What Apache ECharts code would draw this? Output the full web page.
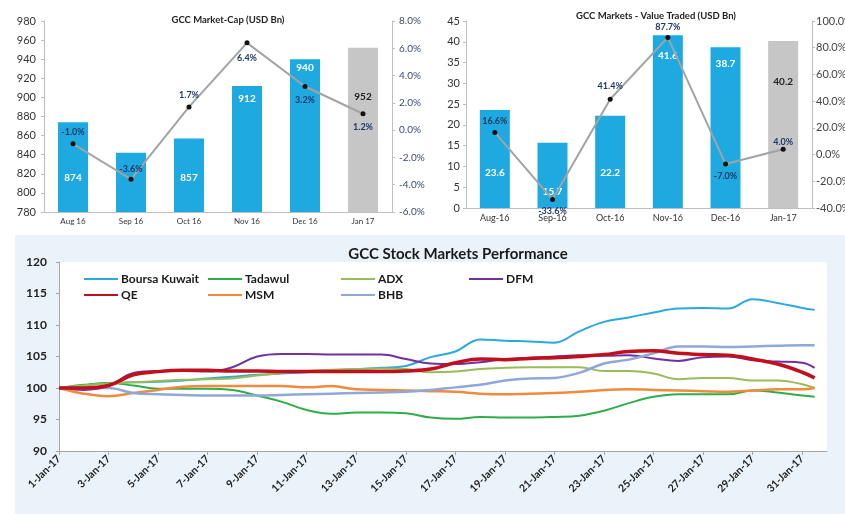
<!DOCTYPE html>
<html>
<head>
<meta charset="utf-8">
<script src="https://cdn.jsdelivr.net/npm/echarts@6/dist/echarts.min.js"></script>
<style>
html,body{margin:0;padding:0;background:#fff;}
#c{width:845px;height:514px;}
</style>
</head>
<body>
<div id="c"></div>
<script>
// ---- Data ----
const mcCats = ['Aug 16', 'Sep 16', 'Oct 16', 'Nov 16', 'Dec 16', 'Jan 17'];
const mcValues = [874, 842, 857, 912, 940, 952];
const mcGrowth = [-1.0, -3.6, 1.7, 6.4, 3.2, 1.2];

const vtCats = ['Aug-16', 'Sep-16', 'Oct-16', 'Nov-16', 'Dec-16', 'Jan-17'];
const vtValues = [23.6, 15.7, 22.2, 41.6, 38.7, 40.2];
const vtGrowth = [16.6, -33.6, 41.4, 87.7, -7.0, 4.0];

const days = [1,2,3,4,5,6,7,8,9,10,11,12,13,14,15,16,17,18,19,20,21,22,23,24,25,26,27,28,29,30,31,31.5];
const dayTicks = [1,3,5,7,9,11,13,15,17,19,21,23,25,27,29,31];
const boursaKuwait = [100,100.4,100.8,100.9,101.0,101.2,101.5,101.8,102.1,102.3,102.5,102.8,103.0,103.2,103.5,104.9,105.8,107.7,107.5,107.4,107.2,109.0,110.5,111.2,112.0,112.6,112.7,112.6,114.1,113.5,112.7,112.4];
const tadawul = [100,100.5,100.8,100.4,99.9,99.9,99.9,99.7,98.8,97.8,96.5,95.9,96.1,96.1,96.0,95.3,95.1,95.4,95.3,95.3,95.4,95.6,96.4,97.6,98.6,99.0,99.0,99.0,99.6,99.3,98.8,98.6];
const adx = [100,100.4,100.7,100.9,101.1,101.3,101.4,101.5,102.0,102.4,102.7,102.9,103.0,103.1,103.0,102.5,102.6,103.0,103.2,103.3,103.3,103.3,102.7,102.7,102.3,101.4,101.6,101.6,101.2,101.2,100.6,100.0];
const dfm = [100,99.7,100.3,102.4,102.7,102.7,102.6,103.3,105.0,105.4,105.4,105.3,105.3,105.3,104.6,103.9,103.8,104.1,104.6,104.8,105.0,105.2,105.1,105.2,104.7,104.3,104.9,105.0,104.4,104.2,104.0,103.2];
const qe = [100,100.0,100.4,102.1,102.6,102.8,102.8,102.7,102.7,102.6,102.6,102.6,102.6,102.6,102.7,103.0,104.0,104.6,104.5,104.7,104.8,105.0,105.3,105.8,105.9,105.5,105.3,105.2,104.6,103.8,102.5,101.6];
const msm = [100,99.1,98.7,99.2,99.7,100.2,100.3,100.3,100.3,100.3,100.1,100.3,99.8,99.7,99.6,99.5,99.4,99.1,99.0,99.1,99.2,99.4,99.7,99.8,99.7,99.6,99.5,99.4,99.6,99.8,99.8,100.0];
const bhb = [100,100.0,100.0,99.2,99.0,98.9,98.8,98.8,98.8,98.9,99.0,99.1,99.2,99.3,99.4,99.7,100.1,100.5,101.2,101.5,101.6,102.4,103.9,104.5,105.5,106.6,106.6,106.5,106.6,106.7,106.8,106.8];

const perfNames = ['Boursa Kuwait', 'Tadawul', 'ADX', 'DFM', 'QE', 'MSM', 'BHB'];
const perfValues = [boursaKuwait, tadawul, adx, dfm, qe, msm, bhb];

// ---- Styles ----
const FONT = 'Lato, "Open Sans", sans-serif';
const BLUE = '#1fa9e1';
const GREYBAR = '#c6c6c6';
const AXIS = '#bfbfbf';
const perfColors = ['#2aa9dc', '#2ead4b', '#9bbb59', '#7030a0', '#c0101c', '#f08a3c', '#8fa8d8'];
const perfWidths = [2, 2, 2, 2, 3.5, 2.5, 2.5];

const mcBarLabels = [
  {position: 'insideBottom', distance: 29},
  {show: false},
  {position: 'insideBottom', distance: 29},
  {position: 'insideTop', distance: 8},
  {position: 'insideTop', distance: 4},
  {position: 'insideTop', distance: 44, color: '#222'}
];
const mcLineLabels = [
  {position: 'top', distance: 5},
  {position: 'top', distance: 3},
  {position: 'top', distance: 5},
  {position: 'bottom', distance: 8},
  {position: 'bottom', distance: 7},
  {position: 'bottom', distance: 6}
];
const vtBarLabels = [
  {position: 'insideBottom', distance: 30},
  {position: 'insideBottom', distance: 11},
  {position: 'insideBottom', distance: 30},
  {position: 'insideTop', distance: 16},
  {position: 'insideTop', distance: 12},
  {position: 'insideTop', distance: 36, color: '#222'}
];
const vtLineLabels = [
  {position: 'top', distance: 4},
  {position: 'bottom', distance: 5},
  {position: 'top', distance: 6},
  {position: 'top', distance: 3},
  {position: 'bottom', distance: 5},
  {position: 'top', distance: 0}
];

function barData(vals, labels) {
  return vals.map((v, i) => ({
    value: v,
    itemStyle: {color: i === vals.length - 1 ? GREYBAR : BLUE},
    label: labels[i]
  }));
}
function lineData(vals, labels) {
  return vals.map((v, i) => ({value: v, label: labels[i]}));
}

const axisLineStyle = {show: true, onZero: false, lineStyle: {color: AXIS, width: 1}};
const axisTickStyle = {show: true, length: 3, lineStyle: {color: AXIS}};

const chart = echarts.init(document.getElementById('c'), null, {renderer: 'canvas'});

const option = {
  animation: false,
  backgroundColor: '#ffffff',
  textStyle: {fontFamily: FONT},
  graphic: [{
    type: 'rect', z: -10, silent: true,
    shape: {x: 15, y: 235, width: 830, height: 279},
    style: {fill: '#e9f3f9'}
  }],
  title: [
    {text: 'GCC Market-Cap (USD Bn)', left: 223, top: 10, textAlign: 'center',
     textStyle: {fontSize: 9.5, fontWeight: 'bold', color: '#222', fontFamily: FONT}},
    {text: 'GCC Markets - Value Traded (USD Bn)', left: 651, top: 6, textAlign: 'center',
     textStyle: {fontSize: 9.5, fontWeight: 'bold', color: '#222', fontFamily: FONT}},
    {text: 'GCC Stock Markets Performance', left: 453, top: 242, textAlign: 'center',
     textStyle: {fontSize: 15, fontWeight: 'bold', color: '#1a1a1a', fontFamily: FONT}}
  ],
  legend: [
    {data: ['Boursa Kuwait', 'QE'], left: 78, top: 268},
    {data: ['Tadawul', 'MSM'], left: 202, top: 268},
    {data: ['ADX', 'BHB'], left: 335, top: 268},
    {data: ['DFM'], left: 463, top: 268}
  ].map(l => Object.assign(l, {
    orient: 'vertical', itemWidth: 34, itemHeight: 14, itemGap: 4,
    itemStyle: {opacity: 0},
    textStyle: {fontSize: 12, fontWeight: 'bold', color: '#1a1a1a', fontFamily: FONT, padding: [0, 0, 0, -2]}
  })),
  grid: [
    {left: 44, right: 453, top: 21, bottom: 302, outerBoundsMode: 'none'},
    {left: 466, right: 33, top: 21, bottom: 306, outerBoundsMode: 'none'},
    {left: 59, right: 18, top: 262, bottom: 63, show: true, backgroundColor: '#ffffff', borderWidth: 0, outerBoundsMode: 'none'}
  ],
  xAxis: [
    {type: 'category', gridIndex: 0, data: mcCats, axisLine: axisLineStyle, axisTick: {show: false},
     axisLabel: {fontSize: 8, color: '#333', margin: 5}},
    {type: 'category', gridIndex: 1, data: vtCats, axisLine: axisLineStyle, axisTick: {show: false},
     axisLabel: {fontSize: 9, color: '#333', margin: 6}},
    {type: 'value', gridIndex: 2, min: 1, max: 32,
     axisLine: {show: true, onZero: false, lineStyle: {color: '#a6a6a6'}},
     axisTick: {show: true, length: 4, inside: false, lineStyle: {color: '#a6a6a6'}, customValues: dayTicks},
     splitLine: {show: false},
     axisLabel: {customValues: dayTicks, rotate: 45, fontSize: 10.5, fontWeight: 'bold', color: '#222', margin: 6,
       formatter: v => v + '-Jan-17'}}
  ],
  yAxis: [
    {type: 'value', gridIndex: 0, min: 780, max: 980, interval: 20, axisLine: axisLineStyle, axisTick: axisTickStyle,
     splitLine: {show: false}, axisLabel: {fontSize: 11, color: '#333', margin: 8}},
    {type: 'value', gridIndex: 0, position: 'right', min: -6, max: 8, interval: 2, axisLine: axisLineStyle, axisTick: axisTickStyle,
     splitLine: {show: false}, axisLabel: {fontSize: 10, color: '#3b4a7a', margin: 7, formatter: v => v.toFixed(1) + '%'}},
    {type: 'value', gridIndex: 1, min: 0, max: 45, interval: 5, axisLine: axisLineStyle, axisTick: axisTickStyle,
     splitLine: {show: false}, axisLabel: {fontSize: 11, color: '#333', margin: 6}},
    {type: 'value', gridIndex: 1, position: 'right', min: -40, max: 100, interval: 20, axisLine: axisLineStyle, axisTick: axisTickStyle,
     splitLine: {show: false}, axisLabel: {fontSize: 11, color: '#444', margin: 4, formatter: v => v.toFixed(1) + '%'}},
    {type: 'value', gridIndex: 2, min: 90, max: 120, interval: 5,
     axisLine: {show: true, lineStyle: {color: '#a6a6a6'}},
     axisTick: {show: true, length: 3, lineStyle: {color: '#a6a6a6'}},
     splitLine: {show: false}, axisLabel: {fontSize: 12, fontWeight: 'bold', color: '#222', margin: 12}}
  ],
  series: [
    {type: 'bar', xAxisIndex: 0, yAxisIndex: 0, barWidth: 30, data: barData(mcValues, mcBarLabels),
     label: {show: true, color: '#fff', fontSize: 10, fontWeight: 'bold', fontFamily: FONT}},
    {type: 'line', xAxisIndex: 0, yAxisIndex: 1, data: lineData(mcGrowth, mcLineLabels),
     lineStyle: {color: '#a3a3a3', width: 2}, symbol: 'circle', symbolSize: 5,
     itemStyle: {color: '#111'}, z: 5,
     label: {show: true, color: '#1f3864', fontSize: 9, fontWeight: 'bold', fontFamily: FONT, formatter: p => p.value.toFixed(1) + '%'}},
    {type: 'bar', xAxisIndex: 1, yAxisIndex: 2, barWidth: 30, data: barData(vtValues, vtBarLabels),
     label: {show: true, color: '#fff', fontSize: 10, fontWeight: 'bold', fontFamily: FONT}},
    {type: 'line', xAxisIndex: 1, yAxisIndex: 3, data: lineData(vtGrowth, vtLineLabels),
     lineStyle: {color: '#a3a3a3', width: 2}, symbol: 'circle', symbolSize: 5,
     itemStyle: {color: '#111'}, z: 5,
     label: {show: true, color: '#1f3864', fontSize: 9, fontWeight: 'bold', fontFamily: FONT, formatter: p => p.value.toFixed(1) + '%'}}
  ].concat(perfNames.map((name, k) => ({
    type: 'line', name: name, xAxisIndex: 2, yAxisIndex: 4,
    data: days.map((d, i) => [d, perfValues[k][i]]),
    smooth: 0.4, symbol: 'none', z: k === 4 ? 3 : 2,
    lineStyle: {color: perfColors[k], width: perfWidths[k]},
    itemStyle: {color: perfColors[k]}
  })))
};

chart.setOption(option);
</script>
</body>
</html>
